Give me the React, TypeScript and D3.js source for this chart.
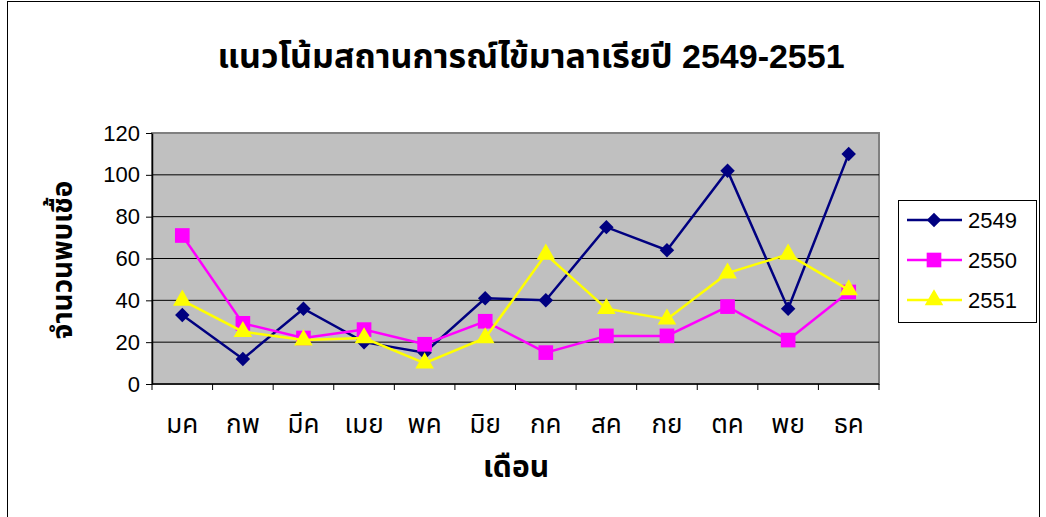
import React, { useRef, useEffect } from "react";
import * as d3 from "d3";

const months = ["มค", "กพ", "มีค", "เมย", "พค", "มิย", "กค", "สค", "กย", "ตค", "พย", "ธค"];
const series2549 = [33, 12, 36, 20, 15, 41, 40, 75, 64, 102, 36, 110];
const series2550 = [71, 29, 22, 26, 19, 30, 15, 23, 23, 37, 21, 44];
const series2551 = [40, 25, 21, 22, 10, 22, 62, 36, 31, 53, 62, 45];
const yTicks = [0, 20, 40, 60, 80, 100, 120];

const thaiFont = "'Liberation Sans', 'Noto Sans Thai', 'Noto Sans', 'DejaVu Sans', sans-serif";

const App = () => {
    const svgRef = useRef<SVGSVGElement>(null);

    useEffect(() => {
        const svg = d3.select(svgRef.current);
        svg.selectAll("*").remove();

        const seriesList = [
            { name: "2549", values: series2549, color: "#000080", shape: d3.symbolSquare, size: 105, rot: 45 },
            { name: "2550", values: series2550, color: "#FF00FF", shape: d3.symbolSquare, size: 215, rot: 0 },
            { name: "2551", values: series2551, color: "#FFFF00", shape: d3.symbolTriangle, size: 150, rot: 0 },
        ];

        // outer chart frame
        svg.append("rect")
            .attr("x", 7.5).attr("y", 1.5)
            .attr("width", 1032).attr("height", 530)
            .attr("fill", "#fff").attr("stroke", "#000").attr("stroke-width", 1);

        const left = 152, right = 879, top = 133, bottom = 384;

        const x = d3.scaleBand().domain(months).range([left, right]);
        const y = d3.scaleLinear().domain([0, 120]).range([bottom, top]);

        // plot area
        svg.append("rect")
            .attr("x", left).attr("y", top)
            .attr("width", right - left).attr("height", bottom - top)
            .attr("fill", "#C0C0C0").attr("stroke", "#808080").attr("stroke-width", 2);

        // gridlines
        svg.append("g")
            .selectAll("line")
            .data(yTicks.filter((t) => t > 0 && t < 120))
            .enter()
            .append("line")
            .attr("x1", left).attr("x2", right)
            .attr("y1", (d) => y(d)).attr("y2", (d) => y(d))
            .attr("stroke", "#000").attr("stroke-width", 1);

        // y axis
        const yAxis = svg.append("g")
            .attr("transform", `translate(${left}, 0)`)
            .call(d3.axisLeft(y).tickValues(yTicks).tickSize(6).tickSizeOuter(0).tickPadding(6));
        yAxis.select(".domain").attr("stroke", "#000").attr("stroke-width", 1.5);
        yAxis.selectAll("text")
            .attr("font-family", "'Liberation Sans', Arial, sans-serif")
            .attr("font-size", "22px")
            .attr("fill", "#000");

        // x axis with ticks at category boundaries
        const xg = svg.append("g").attr("transform", `translate(0, ${bottom})`);
        xg.append("line")
            .attr("x1", left).attr("x2", right)
            .attr("stroke", "#000").attr("stroke-width", 1.5);
        xg.selectAll(".tick")
            .data(months.map((m) => x(m)!).concat([right]))
            .enter()
            .append("line")
            .attr("x1", (d) => d).attr("x2", (d) => d)
            .attr("y1", 0).attr("y2", 6)
            .attr("stroke", "#000");
        xg.selectAll("text")
            .data(months)
            .enter()
            .append("text")
            .attr("x", (d) => x(d)! + x.bandwidth() / 2)
            .attr("y", 49)
            .attr("text-anchor", "middle")
            .attr("font-family", thaiFont)
            .attr("font-size", "26px")
            .text((d) => d);

        // lines and markers, series by series
        const line = d3.line<number>()
            .x((d, i) => x(months[i])! + x.bandwidth() / 2)
            .y((d) => y(d));

        seriesList.forEach((s) => {
            svg.append("path")
                .datum(s.values)
                .attr("d", line)
                .attr("fill", "none")
                .attr("stroke", s.color)
                .attr("stroke-width", 2.5);
            svg.append("g")
                .selectAll("path")
                .data(s.values)
                .enter()
                .append("path")
                .attr("transform", (d, i) => `translate(${x(months[i])! + x.bandwidth() / 2}, ${y(d)}) rotate(${s.rot})`)
                .attr("d", d3.symbol().type(s.shape).size(s.size)())
                .attr("fill", s.color);
        });

        // title
        svg.append("text")
            .attr("x", 531).attr("y", 68)
            .attr("text-anchor", "middle")
            .attr("font-family", thaiFont)
            .attr("font-weight", "bold")
            .attr("font-size", "34px")
            .text("แนวโน้มสถานการณ์ไข้มาลาเรียปี 2549-2551");

        // axis titles
        svg.append("text")
            .attr("x", 516).attr("y", 477)
            .attr("text-anchor", "middle")
            .attr("font-family", thaiFont)
            .attr("font-weight", "bold")
            .attr("font-size", "30px")
            .text("เดือน");
        svg.append("text")
            .attr("transform", "translate(72, 260) rotate(-90)")
            .attr("text-anchor", "middle")
            .attr("font-family", thaiFont)
            .attr("font-weight", "bold")
            .attr("font-size", "28px")
            .text("จำนวนพบเชื้อ");

        // legend
        const lg = svg.append("g");
        lg.append("rect")
            .attr("x", 898.5).attr("y", 200.5)
            .attr("width", 138).attr("height", 122)
            .attr("fill", "#fff").attr("stroke", "#000");
        seriesList.forEach((s, i) => {
            const cy = 220 + i * 40;
            lg.append("line")
                .attr("x1", 907).attr("x2", 962)
                .attr("y1", cy).attr("y2", cy)
                .attr("stroke", s.color).attr("stroke-width", 2.5);
            lg.append("path")
                .attr("transform", `translate(934, ${cy}) rotate(${s.rot})`)
                .attr("d", d3.symbol().type(s.shape).size(s.size)())
                .attr("fill", s.color);
            lg.append("text")
                .attr("x", 968).attr("y", cy + 8)
                .attr("font-family", "'Liberation Sans', Arial, sans-serif")
                .attr("font-size", "22px")
                .text(s.name);
        });
    }, []);

    return (
        <svg ref={svgRef} width={1046} height={517}
            style={{ display: "block", position: "absolute", left: 0, top: 0 }} />
    );
};

export default App;
